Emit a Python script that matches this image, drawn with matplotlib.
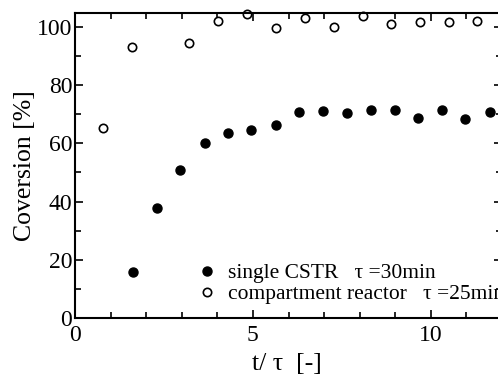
import matplotlib
matplotlib.use("Agg")
import matplotlib.pyplot as plt
from matplotlib.ticker import MultipleLocator

plt.rcParams['font.family'] = ['Liberation Serif', 'DejaVu Serif']
plt.rcParams['mathtext.fontset'] = 'stix'

cstr_t = [1.63, 2.30, 2.96, 3.64, 4.31, 4.96, 5.65, 6.30, 6.97, 7.64, 8.31, 8.98, 9.64, 10.31, 10.97, 11.65]
cstr_conv = [15.9, 37.7, 50.9, 60.1, 63.6, 64.5, 66.4, 70.7, 71.0, 70.5, 71.5, 71.6, 68.8, 71.5, 68.4, 70.9]

comp_t = [0.79, 1.60, 3.21, 4.02, 4.82, 5.65, 6.46, 7.27, 8.08, 8.89, 9.69, 10.50, 11.31]
comp_conv = [65.4, 93.3, 94.5, 102.3, 104.4, 99.7, 103.1, 100.1, 104.0, 101.0, 101.7, 101.7, 102.1]

labels = ["single CSTR   τ =30min", "compartment reactor   τ =25min"]

W, H = 498, 374
fig = plt.figure(figsize=(W/100, H/100), dpi=100)
ax = fig.add_axes([75/W, (H-317.7)/H, (502-75)/W, (317.7-12.7)/H])

ax.plot(cstr_t, cstr_conv, 'o', color='black', markersize=6.5, label=labels[0], clip_on=False)
ax.plot(comp_t, comp_conv, 'o', markerfacecolor='white', markeredgecolor='black',
        markeredgewidth=1.2, markersize=6, label=labels[1], clip_on=False)

ax.set_xlim(0, 12)
ax.set_ylim(0, 105)
ax.xaxis.set_major_locator(MultipleLocator(5))
ax.xaxis.set_minor_locator(MultipleLocator(1))
ax.yaxis.set_major_locator(MultipleLocator(20))
ax.yaxis.set_minor_locator(MultipleLocator(10))
ax.tick_params(which='both', direction='in', top=True, right=True, labelsize=17, width=1.2)
ax.tick_params(which='major', length=6)
ax.tick_params(which='minor', length=4)
ax.tick_params(axis='x', pad=5)
ax.tick_params(axis='y', pad=2)
for s in ax.spines.values():
    s.set_linewidth(1.5)

ax.set_xlabel("t/ τ  [-]", fontsize=18.5)
ax.xaxis.set_label_coords((287-75)/(502-75), -(364-317.7)/(317.7-12.7))
ax.xaxis.label.set_va('center')
ax.set_ylabel("Coversion [%]", fontsize=18.5)
ax.yaxis.set_label_coords(-(75-25)/(502-75), (317.7-166)/(317.7-12.7))
ax.yaxis.label.set_va('center')

leg = ax.legend(loc='upper left', bbox_to_anchor=(198/W, 1-263/H), bbox_transform=fig.transFigure,
                frameon=False, fontsize=15.5, handlelength=0.8, handletextpad=0.6,
                labelspacing=0.05, borderpad=0, borderaxespad=0)

fig.savefig("out.png", dpi=100)
